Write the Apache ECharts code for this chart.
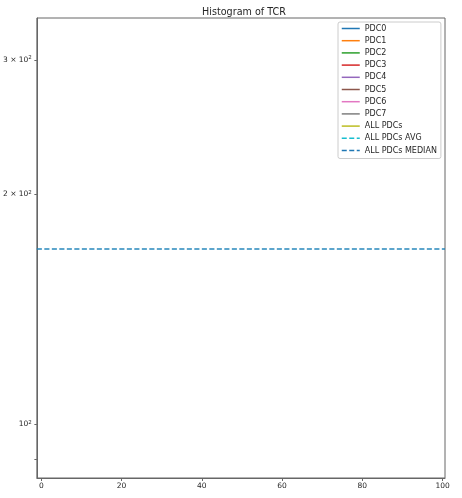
<!DOCTYPE html>
<html>
<head>
<meta charset="utf-8">
<script src="https://cdn.jsdelivr.net/npm/echarts@6/dist/echarts.min.js"></script>
<style>
html,body{margin:0;padding:0;background:#fff;}
#c{width:462px;height:498px;}
</style>
</head>
<body>
<div id="c"></div>
<script>
// ---- data ----
const seriesNames = ['PDC0','PDC1','PDC2','PDC3','PDC4','PDC5','PDC6','PDC7','ALL PDCs'];
const seriesColors = ['#1f77b4','#ff7f0e','#2ca02c','#d62728','#9467bd','#8c564b','#e377c2','#7f7f7f','#bcbd22'];
const avgValue = 170;
const medianValue = 170;
const xTickValues = [0,20,40,60,80,100];
const yLabelValues = [100,200,300];
const yTickValues = [90,100,200,300];

const chart = echarts.init(document.getElementById('c'));
const font = 'DejaVu Sans';
const textColor = '#262626';
const spineColor = '#666';

const series = seriesNames.map((n,i)=>({
  name:n, type:'line', data:[], symbol:'none', legendIcon:'none',
  lineStyle:{color:seriesColors[i], width:1.5},
  itemStyle:{color:seriesColors[i]}
}));
function refLine(name, value, color, opacity){
  return {
    name:name, type:'line', data:[], symbol:'none', legendIcon:'none',
    lineStyle:{color:color, width:2, type:[5,2.5]},
    itemStyle:{color:color},
    markLine:{
      silent:true, symbol:'none', animation:false,
      label:{show:false},
      lineStyle:{color:color, width:2, type:[5,2.5], opacity:opacity},
      emphasis:{disabled:true},
      data:[{yAxis:value}]
    }
  };
}
series.push(refLine('ALL PDCs AVG', avgValue, '#17becf', 0.3));
series.push(refLine('ALL PDCs MEDIAN', medianValue, '#1f77b4', 0.6));

chart.setOption({
  animation:false,
  backgroundColor:'#fff',
  title:{
    text:'Histogram of TCR', left:239, top:2, textAlign:'center',
    textStyle:{fontFamily:font, fontSize:9.6, fontWeight:'normal', color:textColor}
  },
  legend:{
    orient:'vertical', left:338, top:22,
    itemWidth:18, itemHeight:8, itemGap:4.2,
    padding:[2.5,4,4,3],
    borderColor:'#cccccc', borderWidth:1, borderRadius:2,
    backgroundColor:'rgba(255,255,255,0.8)',
    itemStyle:{opacity:0},
    lineStyle:{width:1.5},
    textStyle:{fontFamily:font, fontSize:8, color:textColor},
    data:series.map(s=>s.name)
  },
  grid:{
    left:33, right:17, top:18, bottom:20,
    show:true, borderColor:spineColor, borderWidth:1, backgroundColor:'transparent'
  },
  xAxis:{
    type:'value', min:-1.1, max:100.6,
    splitLine:{show:false},
    axisLine:{show:true, onZero:false, lineStyle:{color:spineColor}},
    axisTick:{show:true, length:3, lineStyle:{color:spineColor}, customValues:xTickValues},
    axisLabel:{fontFamily:font, fontSize:7.5, color:textColor, margin:4, customValues:xTickValues}
  },
  yAxis:{
    type:'log', min:85, max:340.6,
    splitLine:{show:false},
    axisLine:{show:true, onZero:false, lineStyle:{color:spineColor}},
    axisTick:{show:true, length:2.5, lineStyle:{color:spineColor}, customValues:yTickValues},
    axisLabel:{
      fontFamily:font, fontSize:7.5, color:textColor, margin:5, customValues:yLabelValues,
      formatter:function(v){
        const r = Math.round(v);
        if (r===100) return '{b|10}{s|2}';
        return '{b|'+Math.round(r/100)+' × 10}{s|2}';
      },
      rich:{
        b:{fontFamily:font, fontSize:7.5, color:textColor},
        s:{fontFamily:font, fontSize:5.5, color:textColor, padding:[0,0,4,0]}
      }
    }
  },
  series:series
});
</script>
</body>
</html>
